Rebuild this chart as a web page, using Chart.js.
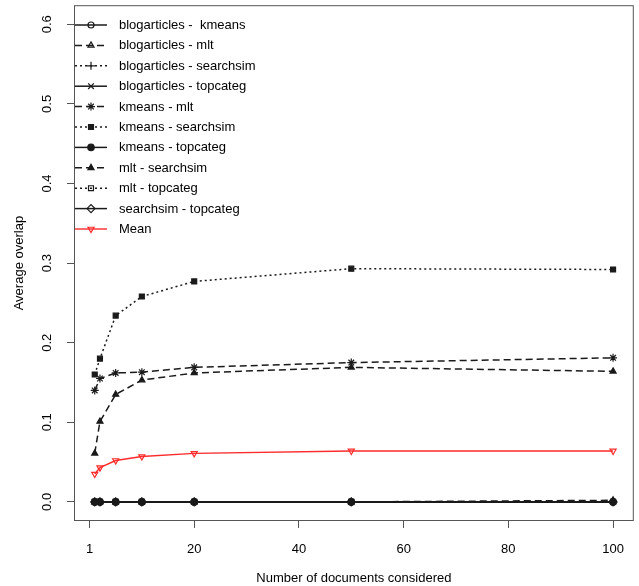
<!DOCTYPE html>
<html lang="en">
<head>
  <meta charset="UTF-8" />
  <title>Average overlap</title>
  <script src="https://cdn.jsdelivr.net/npm/chart.js"></script>
  <style>
    html, body { margin: 0; padding: 0; background: #fff; }
    .grafico { width: 639px; height: 586px; }
  </style>
</head>
<body>
  <div class="grafico">
    <canvas id="overlap" width="639" height="586"></canvas>
  </div>

  <script>
    // number of documents considered
    const documentos = [1, 2, 5, 10, 20, 50, 100];

    // axis ticks (the first x tick sits at 0 but is labelled "1")
    const xTicks = [0, 20, 40, 60, 80, 100];
    const xTickLabels = ['1', '20', '40', '60', '80', '100'];
    const yTicks = [0, 0.1, 0.2, 0.3, 0.4, 0.5, 0.6];
    const yTickLabels = ['0.0', '0.1', '0.2', '0.3', '0.4', '0.5', '0.6'];

    const nomes = [
      'blogarticles -  kmeans',
      'blogarticles - mlt',
      'blogarticles - searchsim',
      'blogarticles - topcateg',
      'kmeans - mlt',
      'kmeans - searchsim',
      'kmeans - topcateg',
      'mlt - searchsim',
      'mlt - topcateg',
      'searchsim - topcateg',
      'Mean'
    ];

    const blogKmeans = [0, 0, 0, 0, 0, 0, 0];
    const blogMlt = [0, 0, 0, 0, 0, 0, 0.002];
    const blogSearchsim = [0, 0, 0, 0, 0, 0, 0];
    const blogTopcateg = [0, 0, 0, 0, 0, 0, 0];
    const kmeansMlt = [0.140, 0.155, 0.162, 0.163, 0.169, 0.175, 0.181];
    const kmeansSearchsim = [0.160, 0.180, 0.234, 0.258, 0.277, 0.293, 0.292];
    const kmeansTopcateg = [0, 0, 0, 0, 0, 0, 0];
    const mltSearchsim = [0.061, 0.101, 0.135, 0.153, 0.162, 0.169, 0.164];
    const mltTopcateg = [0, 0, 0, 0, 0, 0, 0];
    const searchsimTopcateg = [0, 0, 0, 0, 0, 0, 0];
    const media = [0.035, 0.043, 0.052, 0.057, 0.061, 0.064, 0.064];

    const series = [
      blogKmeans, blogMlt, blogSearchsim, blogTopcateg, kmeansMlt,
      kmeansSearchsim, kmeansTopcateg, mltSearchsim, mltTopcateg,
      searchsimTopcateg, media
    ];

    // R style line types: solid, dashed, dotted
    const SOLID = [];
    const DASHED = [7, 4];
    const DOTTED = [2, 3];

    const estilos = [
      { ponto: 'circle', raio: 3, cheio: false, traco: SOLID },
      { ponto: 'triangle', raio: 3.5, cheio: false, traco: DASHED },
      { ponto: 'cross', raio: 4, cheio: false, traco: DOTTED },
      { ponto: 'crossRot', raio: 4, cheio: false, traco: SOLID },
      { ponto: 'star', raio: 4, cheio: false, traco: DASHED },
      { ponto: 'rect', raio: 3.5, cheio: true, traco: DOTTED },
      { ponto: 'circle', raio: 3.2, cheio: true, traco: SOLID },
      { ponto: 'triangle', raio: 3.5, cheio: true, traco: DASHED },
      { ponto: 'rect', raio: 3.5, cheio: false, traco: DOTTED },
      { ponto: 'rectRot', raio: 4, cheio: false, traco: SOLID },
      { ponto: 'triangle', raio: 3.5, cheio: false, traco: SOLID, rotacao: 180, cor: '#ff2a2a' }
    ];

    const fonte = '"Liberation Sans", Arial, sans-serif';

    const datasets = series.map((valores, i) => {
      const e = estilos[i];
      const cor = e.cor || '#1a1a1a';
      return {
        label: nomes[i],
        data: valores.map((v, j) => ({ x: documentos[j], y: v })),
        borderColor: cor,
        borderWidth: e.cor ? 1.4 : 1.5,
        borderDash: e.traco,
        tension: 0,
        pointStyle: e.ponto,
        pointRadius: e.raio,
        pointRotation: e.rotacao || 0,
        pointBorderColor: cor,
        pointBorderWidth: 1.2,
        pointBackgroundColor: e.cheio ? cor : 'rgba(0,0,0,0)',
        order: series.length - 1 - i
      };
    });

    // box around the plot, rotated y labels and the legend inside the plot
    const moldura = {
      id: 'moldura',
      afterDraw(chart) {
        const ctx = chart.ctx;
        const a = chart.chartArea;
        ctx.save();
        ctx.strokeStyle = '#555';
        ctx.lineWidth = 1;
        ctx.setLineDash([]);
        ctx.strokeRect(a.left + 0.5, a.top + 0.5, a.right - a.left - 1, a.bottom - a.top - 1);

        ctx.fillStyle = '#000';
        ctx.font = '13px ' + fonte;
        ctx.textAlign = 'center';
        ctx.textBaseline = 'middle';
        yTicks.forEach((v, i) => {
          const y = chart.scales.y.getPixelForValue(v);
          ctx.save();
          ctx.translate(47, y);
          ctx.rotate(-Math.PI / 2);
          ctx.fillText(yTickLabels[i], 0, 0);
          ctx.restore();
        });

        // legend
        const x0 = 75, x1 = 107, xm = 91, xt = 119;
        ctx.textAlign = 'left';
        datasets.forEach((d, i) => {
          const y = 25 + i * 20.4;
          ctx.strokeStyle = d.borderColor;
          ctx.lineWidth = d.borderWidth;
          ctx.setLineDash(d.borderDash);
          ctx.beginPath();
          ctx.moveTo(x0, y);
          ctx.lineTo(x1, y);
          ctx.stroke();
          ctx.setLineDash([]);
          ctx.fillStyle = d.pointBackgroundColor;
          ctx.strokeStyle = d.pointBorderColor;
          ctx.lineWidth = d.pointBorderWidth;
          Chart.helpers.drawPoint(ctx, {
            pointStyle: d.pointStyle,
            radius: d.pointRadius,
            rotation: d.pointRotation,
            borderWidth: d.pointBorderWidth
          }, xm, y);
          ctx.fillStyle = '#000';
          ctx.fillText(d.label, xt, y + 0.5);
        });
        ctx.restore();
      }
    };

    new Chart(document.getElementById('overlap').getContext('2d'), {
      type: 'line',
      data: { datasets: datasets },
      options: {
        responsive: false,
        animation: false,
        devicePixelRatio: 1,
        layout: { padding: { left: 0, right: 2, top: 4, bottom: 0 } },
        scales: {
          x: {
            type: 'linear',
            min: -2.96,
            max: 103.96,
            afterBuildTicks: s => { s.ticks = xTicks.map(v => ({ value: v })); },
            afterFit: s => { s.height = 65; },
            grid: { drawOnChartArea: false, tickLength: 7, tickColor: '#555' },
            border: { display: false },
            ticks: {
              color: '#000',
              font: { family: fonte, size: 13 },
              padding: 14,
              maxRotation: 0,
              autoSkip: false,
              callback: (v, i) => xTickLabels[i]
            },
            title: {
              display: true,
              text: 'Number of documents considered',
              color: '#000',
              font: { family: fonte, size: 13 },
              padding: { top: 1, bottom: 0 }
            }
          },
          y: {
            min: -0.024,
            max: 0.624,
            afterBuildTicks: s => { s.ticks = yTicks.map(v => ({ value: v })); },
            afterFit: s => { s.width = 74; },
            grid: { drawOnChartArea: false, tickLength: 7, tickColor: '#555' },
            border: { display: false },
            ticks: { display: false },
            title: {
              display: true,
              text: 'Average overlap',
              color: '#000',
              font: { family: fonte, size: 13 },
              padding: { top: 12, bottom: 0 }
            }
          }
        },
        plugins: {
          legend: { display: false },
          tooltip: { enabled: false }
        }
      },
      plugins: [moldura]
    });
  </script>
</body>
</html>
